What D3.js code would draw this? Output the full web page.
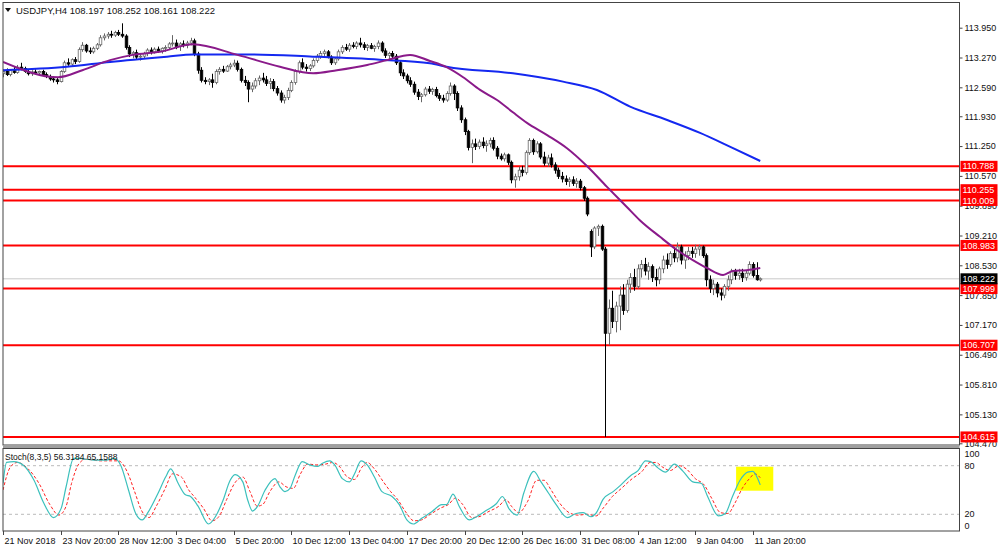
<!DOCTYPE html>
<html><head><meta charset="utf-8">
<script src="https://cdn.jsdelivr.net/npm/d3@7"></script>
<style>body{margin:0;background:#fff}svg{display:block}text{font-family:"Liberation Sans",Arial,sans-serif}</style>
</head><body><svg id="c" width="1000" height="550"></svg>
<script>
const symbolTitle = "USDJPY,H4  108.197 108.252 108.161 108.222";
const stochTitle = "Stoch(8,3,5) 56.3184 65.1588";
// OHLC per H4 bar
const candles = [
[112.90,113.00,112.82,112.95],[112.95,113.02,112.85,112.88],[112.88,113.00,112.84,112.97],[112.97,113.05,112.90,112.93],
[112.93,113.10,112.90,113.05],[113.05,113.15,112.98,113.02],[113.02,113.06,112.92,112.95],[112.95,113.00,112.86,112.90],
[112.90,112.98,112.85,112.94],[112.94,113.00,112.88,112.92],[112.92,112.97,112.86,112.95],[112.95,112.99,112.85,112.88],
[112.88,112.93,112.80,112.84],[112.84,112.88,112.74,112.78],[112.78,112.84,112.70,112.76],[112.76,112.80,112.66,112.72],
[112.72,112.98,112.70,112.95],[112.95,113.20,112.92,113.15],[113.15,113.25,113.08,113.12],[113.12,113.25,113.08,113.22],
[113.22,113.28,113.12,113.18],[113.18,113.50,113.15,113.45],[113.45,113.62,113.40,113.55],[113.55,113.58,113.38,113.42],
[113.42,113.50,113.35,113.40],[113.40,113.52,113.36,113.48],[113.48,113.60,113.44,113.56],[113.56,113.78,113.52,113.72],
[113.72,113.82,113.66,113.76],[113.76,113.85,113.70,113.80],[113.80,113.88,113.72,113.78],[113.78,113.88,113.74,113.84],
[113.84,113.90,113.76,113.80],[113.80,114.05,113.72,113.76],[113.76,113.80,113.45,113.50],[113.50,113.55,113.28,113.35],
[113.35,113.42,113.25,113.38],[113.38,113.45,113.22,113.28],[113.28,113.36,113.20,113.30],[113.30,113.40,113.24,113.36],
[113.36,113.48,113.30,113.44],[113.44,113.50,113.34,113.40],[113.40,113.50,113.36,113.46],[113.46,113.52,113.38,113.42],
[113.42,113.50,113.36,113.48],[113.48,113.55,113.40,113.50],[113.50,113.62,113.45,113.58],[113.58,113.78,113.52,113.60],
[113.60,113.68,113.46,113.52],[113.52,113.62,113.42,113.58],[113.58,113.66,113.50,113.55],[113.55,113.65,113.48,113.60],
[113.60,113.72,113.55,113.65],[113.65,113.70,113.30,113.35],[113.35,113.40,112.90,112.98],[112.98,113.05,112.70,112.75],
[112.75,112.82,112.66,112.72],[112.72,112.80,112.64,112.76],[112.76,112.90,112.58,112.70],[112.70,113.00,112.66,112.95],
[112.95,113.05,112.88,113.00],[113.00,113.08,112.92,112.96],[112.96,113.10,112.94,113.06],[113.06,113.15,113.00,113.10],
[113.10,113.22,113.05,113.14],[113.14,113.20,112.95,113.00],[113.00,113.04,112.70,112.75],[112.75,112.85,112.62,112.70],
[112.70,112.75,112.25,112.55],[112.55,112.70,112.48,112.62],[112.62,112.80,112.56,112.74],[112.74,112.86,112.64,112.80],
[112.80,112.92,112.70,112.76],[112.76,112.85,112.62,112.68],[112.68,112.80,112.55,112.72],[112.72,112.78,112.50,112.56],
[112.56,112.62,112.40,112.46],[112.46,112.52,112.24,112.30],[112.30,112.42,112.22,112.36],[112.36,112.58,112.30,112.52],
[112.52,112.75,112.48,112.70],[112.70,113.00,112.65,112.95],[112.95,113.20,112.90,113.15],[113.15,113.25,113.00,113.05],
[113.05,113.12,112.95,113.02],[113.02,113.12,112.96,113.08],[113.08,113.25,113.04,113.20],[113.20,113.35,113.15,113.30],
[113.30,113.42,113.24,113.36],[113.36,113.45,113.30,113.40],[113.40,113.44,113.25,113.28],[113.28,113.32,113.10,113.15],
[113.15,113.28,113.10,113.24],[113.24,113.45,113.20,113.40],[113.40,113.55,113.35,113.50],[113.50,113.58,113.42,113.46],
[113.46,113.60,113.40,113.55],[113.55,113.62,113.48,113.52],[113.52,113.64,113.46,113.60],[113.60,113.72,113.50,113.56],
[113.56,113.62,113.44,113.50],[113.50,113.58,113.42,113.54],[113.54,113.60,113.46,113.48],[113.48,113.56,113.40,113.52],
[113.52,113.66,113.46,113.60],[113.60,113.64,113.38,113.42],[113.42,113.48,113.26,113.32],[113.32,113.40,113.22,113.36],
[113.36,113.42,113.24,113.30],[113.30,113.35,113.10,113.15],[113.15,113.20,112.85,112.92],[112.92,113.00,112.78,112.85],
[112.85,112.90,112.68,112.74],[112.74,112.82,112.60,112.66],[112.66,112.72,112.42,112.48],[112.48,112.55,112.30,112.38],
[112.38,112.46,112.25,112.42],[112.42,112.60,112.38,112.55],[112.55,112.62,112.44,112.50],[112.50,112.58,112.42,112.54],
[112.54,112.60,112.36,112.40],[112.40,112.46,112.28,112.34],[112.34,112.42,112.24,112.30],[112.30,112.50,112.26,112.45],
[112.45,112.70,112.40,112.62],[112.62,112.66,112.30,112.45],[112.45,112.50,112.05,112.12],[112.12,112.18,111.78,111.85],
[111.85,111.90,111.50,111.58],[111.58,111.62,111.15,111.22],[111.22,111.40,110.86,111.30],[111.30,111.42,111.16,111.24],
[111.24,111.40,111.18,111.34],[111.34,111.45,111.20,111.26],[111.26,111.38,111.12,111.30],[111.30,111.44,111.22,111.38],
[111.38,111.45,111.15,111.20],[111.20,111.25,110.95,111.02],[111.02,111.08,110.92,110.96],[110.96,111.10,110.90,111.05],
[111.05,111.08,110.82,110.88],[110.88,110.92,110.40,110.48],[110.48,110.62,110.30,110.55],[110.55,110.78,110.46,110.70],
[110.70,110.80,110.56,110.65],[110.65,111.15,110.60,111.10],[111.10,111.43,111.05,111.38],[111.38,111.42,111.05,111.12],
[111.12,111.36,111.08,111.30],[111.30,111.34,110.95,111.00],[111.00,111.12,110.80,110.86],[110.86,111.05,110.78,110.98],
[110.98,111.08,110.76,110.82],[110.82,110.88,110.62,110.70],[110.70,110.76,110.50,110.56],[110.56,110.66,110.42,110.50],
[110.50,110.58,110.36,110.44],[110.44,110.54,110.32,110.48],[110.48,110.56,110.34,110.40],[110.40,110.52,110.30,110.45],
[110.45,110.50,110.24,110.30],[110.30,110.34,110.00,110.06],[110.06,110.10,109.65,109.70],[109.30,109.35,108.72,108.95],
[108.95,109.42,108.90,109.38],[109.38,109.46,109.20,109.42],[109.42,109.46,108.86,108.90],[108.90,108.95,104.615,106.98],
[106.98,107.75,106.71,107.55],[107.55,107.95,107.10,107.25],[107.25,107.70,107.00,107.60],[107.60,108.05,107.05,107.85],
[107.85,108.10,107.40,107.50],[107.50,108.20,107.45,108.10],[108.10,108.35,107.90,108.25],[108.25,108.45,107.95,108.05],
[108.05,108.55,108.00,108.45],[108.45,108.65,108.25,108.55],[108.55,108.70,108.30,108.40],[108.40,108.60,108.20,108.50],
[108.50,108.55,108.15,108.25],[108.25,108.45,108.05,108.20],[108.20,108.50,108.10,108.45],[108.45,108.75,108.35,108.65],
[108.65,108.80,108.45,108.55],[108.55,108.85,108.50,108.80],[108.80,108.95,108.60,108.70],[108.70,109.05,108.60,108.95],
[108.95,109.00,108.55,108.65],[108.65,108.85,108.45,108.75],[108.75,108.95,108.65,108.85],[108.85,108.95,108.70,108.80],
[108.80,109.00,108.70,108.90],[108.90,109.00,108.75,108.95],[108.95,108.98,108.70,108.75],[108.75,108.80,108.05,108.20],
[108.20,108.30,107.90,108.00],[108.00,108.20,107.85,108.10],[108.10,108.15,107.80,107.90],[107.90,108.00,107.73,107.85],
[107.85,108.10,107.78,108.05],[108.05,108.30,107.95,108.20],[108.20,108.45,108.10,108.40],[108.40,108.45,108.20,108.30],
[108.30,108.45,108.20,108.35],[108.35,108.45,108.15,108.25],[108.25,108.40,108.18,108.35],[108.35,108.62,108.30,108.55],
[108.55,108.60,108.25,108.30],[108.30,108.60,108.18,108.20],[108.197,108.252,108.161,108.222]
];
// moving averages: [bar index, price]
const maPurple = [[0,113.17],[15.3,112.82],[22,112.98],[29.7,113.21],[36,113.33],[43.5,113.40],[52.7,113.57],[65,113.33],[76.8,113.06],[86,112.91],[92.6,112.98],[101,113.10],[106.5,113.21],[112.9,113.33],[118.4,113.19],[123,113.05],[127.6,112.82],[132.3,112.53],[137,112.30],[141.4,112.02],[145.3,111.78],[150.9,111.50],[156.4,111.20],[162,110.79],[167.5,110.32],[173,109.86],[176.6,109.56],[182.2,109.18],[186.9,108.88],[191.3,108.65],[195.2,108.47],[199.7,108.31],[202.4,108.40],[206.3,108.42],[210,108.47]];
const maBlue = [[0,112.98],[17.7,113.06],[29.7,113.17],[45.5,113.29],[52.7,113.34],[68.5,113.34],[86,113.29],[104.5,113.22],[118.4,113.14],[123,113.06],[141.4,112.91],[155.3,112.72],[164.7,112.53],[173.9,112.15],[184,111.85],[193.3,111.55],[202,111.22],[210,110.91]];
// horizontal levels
const levels = [110.788,110.255,110.009,108.983,107.999,106.707,104.615];
const lastPrice = 108.222;
const priceTicks = [113.95,113.27,112.59,111.93,111.25,110.57,109.89,109.21,108.53,107.85,107.17,106.49,105.81,105.13,104.47];
const stochTicks = [100,80,20,0];
const timeLabels = ["21 Nov 2018","23 Nov 20:00","28 Nov 12:00","3 Dec 04:00","5 Dec 20:00","10 Dec 12:00","13 Dec 04:00","17 Dec 20:00","20 Dec 12:00","26 Dec 16:00","31 Dec 08:00","4 Jan 12:00","9 Jan 04:00","11 Jan 20:00"];
const timeLabelBars = [0,16,32,48,64,80,96,112,128,144,160,176,192,208];
// stochastic main (%K) and signal (%D): [bar index, value]
const stochK = [[0,58],[1,84],[3,85],[5.8,80],[8.6,62],[11.3,34],[14,16],[16.1,27],[17.5,54],[19.6,89],[21,89],[25.1,87],[28.6,87],[30.9,89],[32.7,80],[34.8,50],[36.8,21],[38.6,13],[40.3,23],[43,46],[45.1,66],[46.5,76],[48.6,58],[50.6,44],[52,42],[54.1,30],[57,8],[58.9,17],[61,37],[63,62],[64.4,69],[66.5,60],[67.9,37],[69.2,24],[70.6,30],[72.7,50],[75.4,64],[76.8,54],[78.2,48],[79.6,52],[81,68],[83,85],[85.1,81],[87.2,79],[88.6,83],[90.6,86],[92,81],[94.1,64],[96.1,60],[97.5,70],[99.3,86],[101,81],[103,66],[105.1,48],[107.9,42],[109.9,32],[112,13],[113.8,8],[116.1,15],[118.9,23],[121.7,32],[123,32],[124.8,45],[126.5,30],[129.3,13],[131.3,17],[134.1,25],[136.8,33],[138.5,42],[140.3,27],[142.6,19],[144.4,46],[147.2,73],[149.2,60],[151.3,46],[153.4,32],[156.5,16],[158.9,21],[160.9,22],[163,17],[164.4,21],[166.5,39],[169.2,48],[171.3,56],[174.1,68],[176.1,74],[178.2,86],[179.6,85],[181.7,77],[183.7,72],[186.2,82],[188.6,73],[191.3,60],[193.7,58],[195.4,42],[198.4,18],[200.3,21],[202.3,42],[204.4,62],[206.5,72],[207.9,73],[210,56.3]];
const stochD = [[0,50],[2,78],[4,84],[7,76],[10,58],[13,32],[15.5,19],[17.5,30],[19,58],[21,82],[23,88],[27,86],[30,86],[32,86],[34.5,72],[36.5,48],[38.5,24],[40.5,16],[42.5,30],[45,52],[47,70],[49.5,66],[51.5,50],[53,42],[55.5,28],[58,12],[60,18],[62,38],[64.5,60],[66.5,66],[68.5,48],[70.5,30],[72,32],[74,48],[76.5,60],[78.5,54],[80.5,52],[82.5,70],[84.5,82],[87,81],[89.5,82],[91.5,84],[93.5,78],[95.5,66],[97.5,63],[99.5,78],[101,84],[103,76],[105.5,60],[107.5,48],[109.5,38],[111.5,24],[114,12],[116,13],[118.5,20],[121.5,28],[123.5,32],[125.5,40],[127.5,32],[130,16],[132,17],[134.5,23],[137.5,30],[139.5,38],[141,30],[143,22],[145.5,36],[148,62],[150,62],[152,50],[154,36],[157,22],[159.5,19],[162,20],[164.5,18],[166.5,28],[169,42],[171.5,52],[174.5,64],[177,72],[179.5,84],[181,84],[183,78],[185,74],[187.5,80],[189.5,76],[192,64],[194.5,56],[196.5,40],[199,22],[201,21],[203,34],[205,52],[207,64],[208.5,70],[210,65.16]];

const svg = d3.select("#c");
const L = 3, R = 959.5, mainTop = 2.5, mainBot = 445, stTop = 448.5, stBot = 531;
const x = d3.scaleLinear().domain([0, 210]).range([3, 3 + 210 * 3.606]);
const y = d3.scaleLinear().domain([104.47, 113.95]).range([443.3, 27.7]);
const ys = d3.scaleLinear().domain([0, 100]).range([530.5, 449.5]);

svg.append("defs").append("clipPath").attr("id","mc").append("rect").attr("x",L).attr("y",mainTop).attr("width",R-L).attr("height",mainBot-mainTop);
svg.select("defs").append("clipPath").attr("id","sc").append("rect").attr("x",L).attr("y",stTop).attr("width",R-L).attr("height",stBot-stTop);

// main panel
const gm = svg.append("g").attr("clip-path","url(#mc)");
gm.append("line").attr("x1",L).attr("x2",R).attr("y1",y(lastPrice)).attr("y2",y(lastPrice)).attr("stroke","#c8c8c8").attr("stroke-width",1);
gm.selectAll(".lv").data(levels).join("line").attr("x1",L).attr("x2",R)
  .attr("y1",d=>y(d)).attr("y2",d=>y(d)).attr("stroke","#ff0000").attr("stroke-width",2);
const bw = 2.6;
gm.selectAll(".wk").data(candles).join("line")
  .attr("x1",(d,i)=>Math.round(x(i))+0.5).attr("x2",(d,i)=>Math.round(x(i))+0.5)
  .attr("y1",d=>y(d[1])).attr("y2",d=>y(d[2])).attr("stroke",d=>d[3]>=d[0]?"#666":"#000").attr("stroke-width",1);
gm.selectAll(".bd").data(candles).join("rect")
  .attr("x",(d,i)=>Math.round(x(i))+0.5-bw/2).attr("width",bw)
  .attr("y",d=>y(Math.max(d[0],d[3]))).attr("height",d=>Math.max(0.8,Math.abs(y(d[0])-y(d[3]))))
  .attr("fill",d=>d[3]>=d[0]?"#fff":"#000").attr("stroke",d=>d[3]>=d[0]?"#666":"#000").attr("stroke-width",0.8);
const ml = d3.line().x(d=>x(d[0])).y(d=>y(d[1])).curve(d3.curveMonotoneX);
gm.append("path").attr("d",ml(maBlue)).attr("fill","none").attr("stroke","#1428f0").attr("stroke-width",2);
gm.append("path").attr("d",ml(maPurple)).attr("fill","none").attr("stroke","#8a1a8a").attr("stroke-width",2);

// stoch panel
const gs = svg.append("g").attr("clip-path","url(#sc)");
gs.append("rect").attr("x",x(203.3)).attr("y",466.7).attr("width",x(212.5)-x(203.3)+4).attr("height",24).attr("fill","#ffff00");
[80,20].forEach(v=>gs.append("line").attr("x1",L).attr("x2",R).attr("y1",ys(v)).attr("y2",ys(v)).attr("stroke","#bbb").attr("stroke-dasharray","3,3"));
const sl = d3.line().x(d=>x(d[0])).y(d=>ys(d[1])).curve(d3.curveMonotoneX);
gs.append("path").attr("d",sl(stochD)).attr("fill","none").attr("stroke","#ff2020").attr("stroke-width",1).attr("stroke-dasharray","3,2");
gs.append("path").attr("d",sl(stochK)).attr("fill","none").attr("stroke","#3cc0bc").attr("stroke-width",1.2);

// frames
svg.append("rect").attr("x",L).attr("y",mainTop).attr("width",R-L).attr("height",mainBot-mainTop).attr("fill","none").attr("stroke","#444").attr("stroke-width",1);
svg.append("rect").attr("x",L).attr("y",mainBot).attr("width",R-L).attr("height",stTop-mainBot).attr("fill","#a0a0a0");
svg.append("rect").attr("x",L).attr("y",stTop).attr("width",R-L).attr("height",stBot-stTop).attr("fill","none").attr("stroke","#444").attr("stroke-width",1);

// right price axis
const ra = svg.append("g").attr("transform",`translate(${R},0)`);
ra.call(d3.axisRight(y).tickValues(priceTicks).tickSize(3).tickFormat(d3.format(".3f")));
ra.select(".domain").remove();
ra.selectAll("text").attr("font-size","9px").attr("fill","#111").attr("x",5);
ra.selectAll("line").attr("stroke","#444");
// stoch axis labels
const sa = svg.append("g").attr("transform",`translate(${R},0)`);
sa.selectAll("text").data(stochTicks).join("text").attr("x",5)
  .attr("y",d=>({100:454,80:465.7,20:514.3,0:525.7})[d]).attr("dy","0.35em").attr("font-size","9px").attr("fill","#111").text(d=>d);

// level boxes
const lb = svg.append("g");
levels.forEach(v=>{
  lb.append("rect").attr("x",R+1).attr("y",y(v)-5.5).attr("width",37).attr("height",11).attr("fill","#ff0000");
  lb.append("text").attr("x",R+3).attr("y",y(v)).attr("dy","0.35em").attr("font-size","9px").attr("fill","#fff").text(d3.format(".3f")(v));
});
lb.append("rect").attr("x",R+1).attr("y",y(lastPrice)-5.5).attr("width",37).attr("height",11).attr("fill","#000");
lb.append("text").attr("x",R+3).attr("y",y(lastPrice)).attr("dy","0.35em").attr("font-size","9px").attr("fill","#fff").text(d3.format(".3f")(lastPrice));

// bottom time axis
const ta = svg.append("g");
timeLabelBars.forEach((b,k)=>{
  const tx = Math.round(x(b))+0.5;
  ta.append("line").attr("x1",tx).attr("x2",tx).attr("y1",stBot).attr("y2",stBot+4).attr("stroke","#444");
  ta.append("text").attr("x",tx+1).attr("y",544).attr("font-size","9px").attr("fill","#111").text(timeLabels[k]);
});

// titles
svg.append("path").attr("d","M5,8 L11,8 L8,12 Z").attr("fill","#111");
svg.append("text").attr("x",16).attr("y",13.5).attr("font-size","9.5px").attr("fill","#111").text(symbolTitle);
svg.append("text").attr("x",5).attr("y",459.5).attr("font-size","8.5px").attr("fill","#111").text(stochTitle);
</script></body></html>
